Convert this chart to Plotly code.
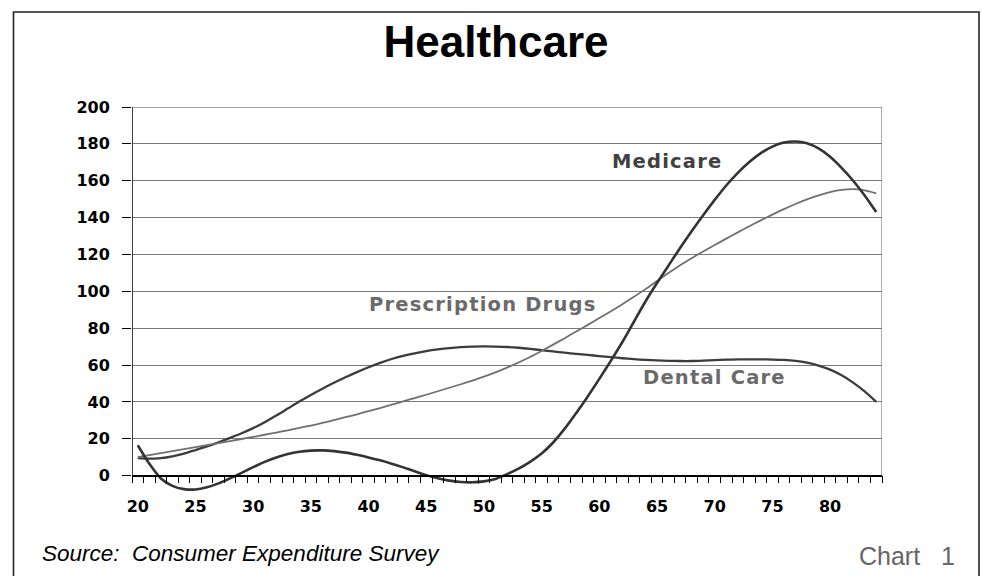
import plotly.graph_objects as go

# ---------------- data ----------------
ages = list(range(20, 85))

medicare = [16.5, 6.5, -1.5, -5.5, -7.3, -7.5, -6.3, -4.2, -1.5, 1.5,
            4.6, 7.5, 9.9, 11.8, 13, 13.6, 13.7, 13.3, 12.5, 11.3,
            9.9, 8.3, 6.5, 4.5, 2.4, 0.3, -1.4, -2.7, -3.4, -3.6,
            -3.1, -1.8, 0.8, 3.8, 7.5, 12, 18, 25.5, 34, 43,
            52.5, 62.3, 72.5, 83.5, 94.5, 104.5, 114, 123.5, 132.6, 141.3,
            149.6, 157.4, 164.3, 170.2, 175, 178.5, 180.7, 181.3, 180.3, 177.5,
            173, 167, 160, 152, 143]

prescription = [10, 11.1, 12.2, 13.3, 14.4, 15.5, 16.6, 17.7, 18.8, 19.9,
                21, 22.2, 23.4, 24.6, 25.9, 27.2, 28.6, 30.1, 31.7, 33.3,
                35, 36.7, 38.5, 40.3, 42.1, 43.9, 45.8, 47.7, 49.6, 51.6,
                53.7, 56, 58.6, 61.4, 64.4, 67.7, 71.1, 74.6, 78.2, 81.8,
                85.5, 89.2, 93, 97, 101.2, 105.6, 110, 114.2, 118, 121.6,
                125.1, 128.6, 132, 135.3, 138.5, 141.6, 144.6, 147.4, 149.9, 152,
                153.8, 155, 155.4, 154.8, 153.2]

dental = [9.5, 9.2, 9.5, 10.5, 12, 13.9, 15.9, 18.1, 20.5, 23,
          25.8, 29, 32.6, 36.4, 40.2, 43.8, 47.2, 50.4, 53.4, 56.2,
          58.8, 61.2, 63.3, 65, 66.4, 67.6, 68.5, 69.2, 69.7, 70,
          70.1, 70, 69.8, 69.4, 68.8, 68.1, 67.4, 66.7, 66.1, 65.5,
          64.9, 64.3, 63.7, 63.2, 62.8, 62.5, 62.3, 62.2, 62.2, 62.4,
          62.7, 62.9, 63.1, 63.1, 63.1, 63, 62.8, 62.3, 61.3, 59.7,
          57.5, 54.5, 50.5, 45.7, 40]

x_tick_vals = [20, 25, 30, 35, 40, 45, 50, 55, 60, 65, 70, 75, 80]
x_tick_text = [str(v) for v in x_tick_vals]
y_tick_vals = [0, 20, 40, 60, 80, 100, 120, 140, 160, 180, 200]
y_tick_text = [str(v) for v in y_tick_vals]

series_names = ["Medicare", "Prescription Drugs", "Dental Care"]
label_pos = {  # (age, value) of the in-chart labels
    "Medicare": (65.9, 170.5),
    "Prescription Drugs": (49.9, 93),
    "Dental Care": (70.0, 53.5),
}

title_text = "Healthcare"
source_text = "Source:\u00a0\u00a0Consumer Expenditure Survey"
chart_text = "Chart\u00a0\u00a0\u00a01"

# ---------------- layout geometry ----------------
W, H = 983, 576
ML, MR, MT, MB = 132, 101, 107, 83
x_range = [ages[0] - 0.5, ages[-1] + 0.5]
y_max = 200
y_min = -9.4
zero_pos = (0 - y_min) / (y_max - y_min)

PW = W - ML - MR
PH = H - MT - MB


def px_x(px):
    return (px - ML) / PW


def px_y(py):
    return (H - MB - py) / PH


fig = go.Figure()

fig.add_trace(go.Scatter(x=ages, y=dental, mode="lines", name=series_names[2],
                         line=dict(color="#3c3c3c", width=2.3, shape="spline", smoothing=0.8)))
fig.add_trace(go.Scatter(x=ages, y=prescription, mode="lines", name=series_names[1],
                         line=dict(color="#707070", width=1.8, shape="spline", smoothing=0.8)))
fig.add_trace(go.Scatter(x=ages, y=medicare, mode="lines", name=series_names[0],
                         line=dict(color="#333333", width=2.6, shape="spline", smoothing=0.8)))

tick_font = dict(family="DejaVu Sans", size=16, color="black", weight="bold")

fig.update_layout(
    width=W, height=H,
    margin=dict(l=ML, r=MR, t=MT, b=MB),
    paper_bgcolor="white", plot_bgcolor="white",
    showlegend=False,
    title=dict(text=title_text, x=496 / W, y=1 - 42 / H, xref="container", yref="container",
               xanchor="center", yanchor="middle",
               font=dict(family="Liberation Sans", size=44, color="black", weight="bold")),
    xaxis=dict(range=x_range, tickvals=x_tick_vals, ticktext=x_tick_text,
               anchor="free", position=zero_pos, showgrid=False, zeroline=False,
               showline=True, linecolor="black", linewidth=1.5,
               ticks="", ticklabelstandoff=16, tickfont=tick_font,
               minor=dict(ticks="outside", ticklen=7, tickwidth=1, tickcolor="black",
                          tick0=x_range[0], dtick=1, showgrid=False)),
    yaxis=dict(range=[y_min, y_max], tickvals=y_tick_vals, ticktext=y_tick_text,
               showgrid=True, gridcolor="#7a7a7a", gridwidth=1, zeroline=False,
               showline=False, ticks="outside", ticklen=9, tickcolor="black",
               ticklabelstandoff=9, tickfont=tick_font),
)

# left axis line and right border of the plotting area (from 0 to 200)
fig.add_shape(type="line", xref="x", yref="y", x0=x_range[0], x1=x_range[0], y0=0, y1=y_max,
              line=dict(color="black", width=1.5))
fig.add_shape(type="line", xref="x", yref="y", x0=x_range[1], x1=x_range[1], y0=0, y1=y_max,
              line=dict(color="#7a7a7a", width=1.2))
fig.add_shape(type="line", xref="x", yref="y", x0=x_range[0], x1=x_range[1], y0=y_max, y1=y_max,
              line=dict(color="#444444", width=1.2))

# page frame
fig.add_shape(type="rect", xref="paper", yref="paper",
              x0=px_x(13.5), x1=px_x(979), y0=px_y(12), y1=px_y(600),
              line=dict(color="#222222", width=1.6), fillcolor="rgba(0,0,0,0)", layer="below")

label_colors = {"Medicare": "#404040", "Prescription Drugs": "#6a6a6a", "Dental Care": "#6a6a6a"}
for name in series_names:
    ax_, ay_ = label_pos[name]
    fig.add_annotation(x=ax_, y=ay_, xref="x", yref="y",
                       text='<span style="letter-spacing:1.2px">' + name + '</span>',
                       showarrow=False, xanchor="center", yanchor="middle",
                       font=dict(family="DejaVu Sans", size=19.5, color=label_colors[name], weight="bold"))

fig.add_annotation(x=px_x(40), y=px_y(553), xref="paper", yref="paper", text=source_text,
                   showarrow=False, xanchor="left", yanchor="middle",
                   font=dict(family="Liberation Sans", size=22.5, color="black", style="italic"))
fig.add_annotation(x=px_x(957), y=px_y(556), xref="paper", yref="paper", text=chart_text,
                   showarrow=False, xanchor="right", yanchor="middle",
                   font=dict(family="Liberation Sans", size=25, color="#666666"))

fig.write_html("out.html")
